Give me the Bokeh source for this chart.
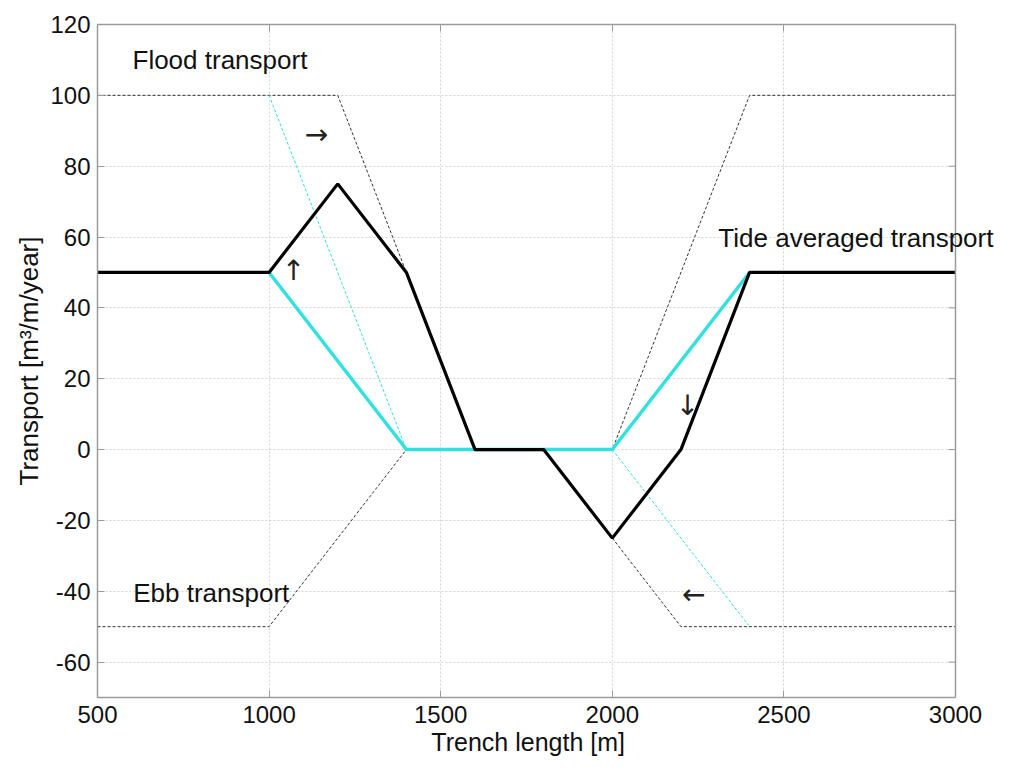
import math
from bokeh.plotting import figure
from bokeh.models import LinearAxis, Range1d, FixedTicker, Label, Span, BoxAnnotation
from bokeh.embed import file_html
from bokeh.resources import INLINE

# Data
tide_x = [500, 1000, 1200, 1400, 1600, 1800, 2000, 2200, 2400, 3000]
tide_y = [50, 50, 75, 50, 0, 0, -25, 0, 50, 50]

cyan_x = [1000, 1400, 2000, 2400]
cyan_y = [50, 0, 0, 50]

flood_shift_x = [500, 1200, 1600, 2000, 2400, 3000]
flood_shift_y = [100, 100, 0, 0, 100, 100]

ebb_shift_x = [500, 1000, 1400, 1800, 2200, 3000]
ebb_shift_y = [-50, -50, 0, 0, -50, -50]

flood_orig_x = [1000, 1400]
flood_orig_y = [100, 0]
ebb_orig_x = [2000, 2400]
ebb_orig_y = [0, -50]

labels_text = ["Flood transport", "Tide averaged transport", "Ebb transport"]
labels_x = [602, 2309, 604]
labels_y = [110, 59.8, -40.5]

arrow_text = ["\u2192", "\u2191", "\u2193", "\u2190"]
arrow_x = [1138, 1071, 2219, 2237]
arrow_y = [89, 50.5, 12.5, -41]

x_min, x_max = 500, 3000
y_min, y_max = -70, 120
x_ticks = [500, 1000, 1500, 2000, 2500, 3000]
y_ticks = [-60, -40, -20, 0, 20, 40, 60, 80, 100, 120]
y_tick_labels = ["-60", "-40", "-20", "0", "20", "40", "60", "80", "100", "120"]

FONT = "Liberation Sans"
AX_COL = "#9a9a9a"

# frame: 97px .. 955px for 500..3000; extend the visible range so that the
# right-hand label may run past the box, as in the original
px_per_unit = (955 - 97) / (x_max - x_min)
x_end = x_min + (1000 - 97) / px_per_unit

p = figure(width=1000, height=758, output_backend="svg", toolbar_location=None,
           x_range=Range1d(x_min, x_end), y_range=Range1d(y_min, y_max),
           min_border_left=97, min_border_top=24, min_border_right=0, min_border_bottom=58)

p.outline_line_color = None

for ax in (p.xaxis[0], p.yaxis[0]):
    ax.axis_line_color = AX_COL
    ax.axis_line_width = 1.5
    ax.major_tick_line_color = AX_COL
    ax.major_tick_in = 7
    ax.major_tick_out = 0
    ax.minor_tick_line_color = None
    ax.major_label_text_font = FONT
    ax.major_label_text_font_size = "24px"
    ax.major_label_text_color = "#111111"
    ax.axis_label_text_font = FONT
    ax.axis_label_text_font_size = "25px"
    ax.axis_label_text_font_style = "normal"
    ax.axis_label_text_color = "#111111"

p.yaxis[0].axis_label_text_font_size = "26px"
p.xaxis[0].ticker = FixedTicker(ticks=x_ticks)
p.xaxis[0].bounds = (x_min, x_max)
p.yaxis[0].ticker = FixedTicker(ticks=y_ticks)
p.yaxis[0].major_label_overrides = {t: s for t, s in zip(y_ticks, y_tick_labels)}
# trailing no-break spaces re-centre the title under the box (frame is wider)
p.xaxis[0].axis_label = "Trench length [m]" + "\u00a0" * 6
p.yaxis[0].axis_label = "Transport [m\u00b3/m/year]"
p.xaxis[0].major_label_standoff = 8
p.yaxis[0].major_label_standoff = 7
p.xaxis[0].axis_label_standoff = 2
p.yaxis[0].axis_label_standoff = 3

t_ax = LinearAxis(ticker=FixedTicker(ticks=x_ticks), bounds=(x_min, x_max),
                  major_label_overrides={t: "" for t in x_ticks},
                  axis_line_color=AX_COL, axis_line_width=1.5, major_tick_line_color=AX_COL,
                  major_tick_in=7, major_tick_out=0, minor_tick_line_color=None,
                  major_label_standoff=0)
p.add_layout(t_ax, "above")

p.xgrid.ticker = FixedTicker(ticks=x_ticks)
p.ygrid.ticker = FixedTicker(ticks=y_ticks)
for g in (p.xgrid[0], p.ygrid[0]):
    g.grid_line_color = "#d4d4d4"
    g.grid_line_dash = "2 2"
    g.grid_line_width = 1
if hasattr(p.ygrid[0], "cross_bounds"):
    p.ygrid[0].cross_bounds = (x_min, x_max)
# white out everything right of the box (under the data)
p.add_layout(BoxAnnotation(left=x_max, fill_color="white", fill_alpha=1.0,
                           line_color=None, level="underlay"))

# Dashed thin lines
p.line(flood_shift_x, flood_shift_y, line_color="#333333", line_width=1, line_dash="3 2")
p.line(ebb_shift_x, ebb_shift_y, line_color="#333333", line_width=1, line_dash="3 2")
p.line(flood_orig_x, flood_orig_y, line_color="#33dddd", line_width=1, line_dash="3 2")
p.line(ebb_orig_x, ebb_orig_y, line_color="#33dddd", line_width=1, line_dash="3 2")

# Thick lines
p.line(cyan_x, cyan_y, line_color="#33e0e0", line_width=3.5)
p.line(tide_x, tide_y, line_color="black", line_width=3.2)

# right-hand border of the box with inward ticks
p.add_layout(Span(location=x_max, dimension="height", line_color=AX_COL, line_width=1.5))
p.ray(x=[x_max] * len(y_ticks), y=y_ticks, length=7, length_units="screen",
      angle=math.pi, line_color=AX_COL, line_width=1)

for t, x, y in zip(labels_text, labels_x, labels_y):
    p.add_layout(Label(x=x, y=y, text=t, text_font=FONT, text_font_size="26px",
                       text_baseline="middle", text_align="left", text_color="#111111"))
for t, x, y in zip(arrow_text, arrow_x, arrow_y):
    p.add_layout(Label(x=x, y=y, text=t, text_font="DejaVu Sans", text_font_size="28px",
                       text_baseline="middle", text_align="center", text_color="#222222"))

open("out.html", "w").write(file_html(p, INLINE))
